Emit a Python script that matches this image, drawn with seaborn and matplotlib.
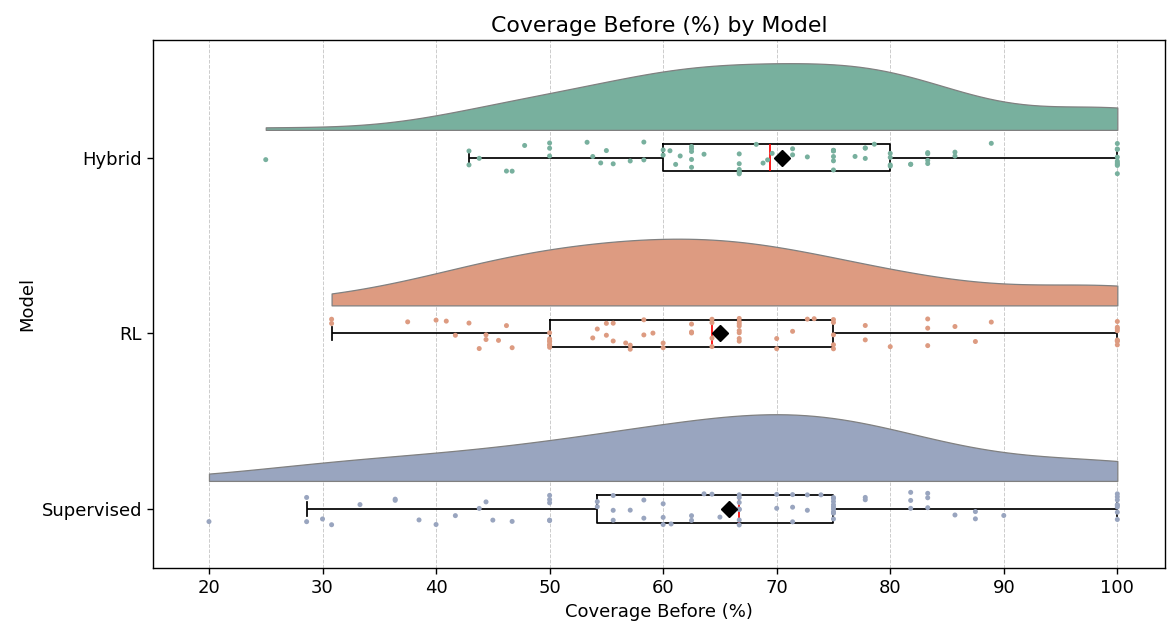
import numpy as np
import pandas as pd
import seaborn as sns
import matplotlib.pyplot as plt

plt.style.use('default')
np.random.seed(3)

models = ['Hybrid', 'RL', 'Supervised']
palette = [sns.desaturate(c, 0.6) for c in sns.color_palette('Set2', 3)]

hybrid = [25.0, 42.9, 42.9, 43.8, 46.2, 46.7, 47.8, 50, 50, 50, 53.3, 53.8, 54.5, 55.0,
          55.6, 57.1, 58.3, 58.3, 60.0, 60.0, 60.6, 61.1, 61.5, 62.5, 62.5, 62.5, 62.5,
          62.5, 63.6, 66.7, 66.7, 66.7, 66.7, 66.7, 66.7, 68.2, 68.8, 69.2, 69.6, 71.4,
          71.4, 72.7, 75, 75, 75, 75, 75, 75, 75, 76.9, 77.8, 77.8, 77.8, 78.6, 80, 80,
          80, 80, 81.8, 81.8, 83.3, 83.3, 83.3, 83.3, 85.7, 85.7, 88.9,
          100, 100, 100, 100, 100, 100, 100, 100, 100]
rl = [30.8, 30.8, 37.5, 40, 40.9, 41.7, 42.9, 43.8, 44.4, 44.4, 45.5, 46.2, 46.7,
      50, 50, 50, 50, 50, 50, 50, 53.8, 54.2, 55, 55, 55.6, 55.6, 56.7, 57.1, 57.1, 58.3,
      58.3, 59.1, 60, 60, 62.5, 62.5, 62.5, 64.3, 64.3, 64.3, 64.3, 66.7, 66.7, 66.7,
      66.7, 66.7, 66.7, 66.7, 66.7, 70, 70, 71.4, 72.7, 73.3, 75, 75, 75, 75, 75, 77.8,
      77.8, 80, 83.3, 83.3, 83.3, 85.7, 87.5, 88.9, 100, 100, 100, 100, 100, 100, 100, 100]
supervised = [20, 28.6, 28.6, 30, 30.8, 33.3, 36.4, 36.4, 38.5, 40, 41.7, 43.8, 44.4,
              45, 46.7, 50, 50, 50, 50, 50, 54.2, 54.2, 55.6, 55.6, 55.6, 57.1, 58.3,
              58.3, 60, 60, 60, 60.7, 62.5, 62.5, 63.6, 64.3, 65, 66.7, 66.7, 66.7, 66.7,
              66.7, 66.7, 66.7, 70, 70, 71.4, 71.4, 71.4, 72.7, 72.7, 73.9, 75, 75, 75,
              75, 75, 75, 75, 75, 75, 75, 77.8, 77.8, 81.8, 81.8, 81.8, 83.3, 83.3, 83.3,
              85.7, 87.5, 87.5, 90, 100, 100, 100, 100, 100, 100, 100, 100]

df = pd.DataFrame({
    'Model': ['Hybrid'] * len(hybrid) + ['RL'] * len(rl) + ['Supervised'] * len(supervised),
    'Coverage Before (%)': hybrid + rl + supervised,
})
col = 'Coverage Before (%)'

fig = plt.figure(figsize=(11.67, 6.26), dpi=100)
ax = fig.add_axes([0.1311, 0.0927, 0.8672, 0.8434])

# clouds: half violins shifted above each row
sns.violinplot(data=df, x=col, y='Model', hue='Model', order=models, hue_order=models,
               palette=palette, saturation=1, inner=None, cut=0, density_norm='width',
               width=0.76, linewidth=0.9, legend=False, ax=ax)
for i, coll in enumerate(ax.collections[:3]):
    for path in coll.get_paths():
        v = path.vertices
        v[:, 1] = np.minimum(v[:, 1], i) - 0.16
    coll.set_edgecolor('#808080')
    coll.set_zorder(1)

sns.boxplot(data=df, x=col, y='Model', order=models, width=0.154, fill=False,
            color='black', linecolor='black', linewidth=1.25, showfliers=False,
            showmeans=True, whis=1.5,
            medianprops=dict(color='red', linewidth=1.25),
            meanprops=dict(marker='D', markerfacecolor='black', markeredgecolor='black',
                           markersize=8, zorder=5),
            ax=ax)

sns.stripplot(data=df, x=col, y='Model', hue='Model', order=models, hue_order=models,
              palette=palette, size=3.6, jitter=0.095, legend=False, zorder=3, ax=ax)

for line in ax.lines:
    if line.get_marker() == 'D':
        line.set_zorder(6)

ax.set_xlim(15.07, 104.2)
ax.set_ylim(2.336, -0.672)
ax.set_xticks([20, 30, 40, 50, 60, 70, 80, 90, 100])
ax.grid(axis='x', linestyle='--', color='#cccccc', linewidth=0.7)
ax.set_axisbelow(True)
ax.set_title('Coverage Before (%) by Model', fontsize=15.8)
ax.set_xlabel('Coverage Before (%)', fontsize=13)
ax.set_ylabel('Model', fontsize=13)
ax.tick_params(axis='both', labelsize=13, width=1.0, length=4.5)
for s in ax.spines.values():
    s.set_linewidth(1.0)

fig.savefig('out.png', dpi=100)
